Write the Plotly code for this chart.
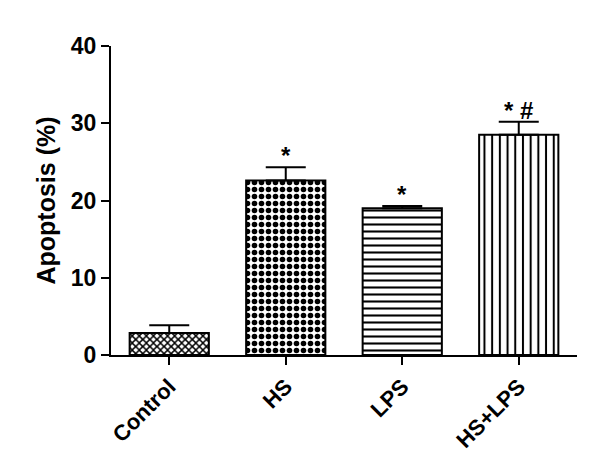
import plotly.graph_objects as go

# data
groups = ['Control', 'HS', 'LPS', 'HS+LPS']
apoptosis = [2.85, 22.6, 19.0, 28.5]
sem = [1.0, 1.7, 0.3, 1.7]
marks = ['', '*', '*', '* #']

patterns = [
    dict(shape='x', size=5, solidity=0.5, fgcolor='black', bgcolor='white', fgopacity=1),
    dict(shape='.', size=7, solidity=0.5, fgcolor='black', bgcolor='white', fgopacity=1),
    dict(shape='-', size=7, solidity=0.3, fgcolor='black', bgcolor='white', fgopacity=1),
    dict(shape='|', size=7.7, solidity=0.26, fgcolor='black', bgcolor='white', fgopacity=1),
]

font_b = 'Liberation Sans, Arial, sans-serif'

fig = go.Figure()

for i, g in enumerate(groups):
    fig.add_trace(go.Bar(
        x=[g],
        y=[apoptosis[i]],
        marker=dict(color='white', pattern=patterns[i],
                    line=dict(color='black', width=2)),
        error_y=dict(type='data', symmetric=False, array=[sem[i]], arrayminus=[0],
                     color='black', thickness=2, width=20),
        showlegend=False,
    ))

# significance marks above the error bars
for g, v, e, m in zip(groups, apoptosis, sem, marks):
    if m:
        fig.add_annotation(x=g, y=v + e, text=m, showarrow=False,
                           yanchor='bottom', yshift=-4,
                           font=dict(family=font_b, size=24, weight='bold', color='black'))

fig.update_layout(
    width=592, height=453,
    margin=dict(l=103, r=23, t=38, b=106),
    paper_bgcolor='white', plot_bgcolor='white',
    bargap=0.32,
    font=dict(family=font_b, color='black'),
    xaxis=dict(
        type='category', range=[-0.5, 3.5], automargin=False,
        showline=True, linecolor='black', linewidth=2,
        ticks='outside', ticklen=8, tickwidth=2, tickcolor='black',
        tickangle=-45,
        tickfont=dict(family=font_b, size=22, weight='bold'),
        showgrid=False,
    ),
    yaxis=dict(
        range=[0, 40], tickvals=[0, 10, 20, 30, 40], automargin=False,
        showline=True, linecolor='black', linewidth=2,
        ticks='outside', ticklen=8, tickwidth=2, tickcolor='black',
        tickfont=dict(family=font_b, size=23, weight='bold'),
        showgrid=False, zeroline=False,
        title=dict(text='Apoptosis (%)', standoff=8,
                   font=dict(family=font_b, size=25, weight='bold')),
    ),
)

fig.write_html("out.html")
